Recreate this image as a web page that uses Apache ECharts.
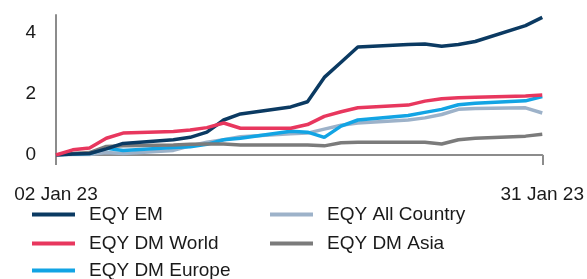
<!DOCTYPE html>
<html>
<head>
<meta charset="utf-8">
<script src="https://cdn.jsdelivr.net/npm/echarts@6/dist/echarts.min.js"></script>
<style>
html,body{margin:0;padding:0;background:#fff;}
#chart{width:587px;height:279px;}
</style>
</head>
<body>
<div id="chart"></div>
<script>
const dates = ['2023-01-02','2023-01-03','2023-01-04','2023-01-05','2023-01-06',
  '2023-01-09','2023-01-10','2023-01-11','2023-01-12','2023-01-13',
  '2023-01-16','2023-01-17','2023-01-18','2023-01-19','2023-01-20',
  '2023-01-23','2023-01-24','2023-01-25','2023-01-26','2023-01-27',
  '2023-01-30','2023-01-31'];
const tickLabels = ['02 Jan 23', '31 Jan 23'];
const yTicks = [0, 2, 4];
const seriesNames = ['EQY EM','EQY DM World','EQY DM Europe','EQY All Country','EQY DM Asia'];
const eqyEM        = [0, 0.03, 0.05, 0.2, 0.38, 0.5, 0.58, 0.75, 1.15, 1.35, 1.58, 1.75, 2.55, 3.05, 3.55, 3.63, 3.65, 3.57, 3.63, 3.73, 4.25, 4.52];
const eqyDMWorld   = [0, 0.17, 0.23, 0.55, 0.72, 0.77, 0.82, 0.9, 1.05, 0.88, 0.88, 1.0, 1.27, 1.42, 1.55, 1.64, 1.77, 1.85, 1.88, 1.9, 1.94, 1.97];
const eqyDMEurope  = [0, 0.03, 0.05, 0.22, 0.15, 0.25, 0.27, 0.35, 0.5, 0.55, 0.78, 0.75, 0.58, 0.95, 1.15, 1.3, 1.4, 1.5, 1.65, 1.7, 1.78, 1.92];
const eqyAllCountry= [0, 0.02, 0.02, 0.08, 0.05, 0.15, 0.3, 0.42, 0.5, 0.6, 0.7, 0.72, 0.85, 0.98, 1.05, 1.15, 1.22, 1.33, 1.5, 1.53, 1.55, 1.38];
const eqyDMAsia    = [0, 0.05, 0.08, 0.28, 0.3, 0.33, 0.35, 0.36, 0.36, 0.33, 0.33, 0.33, 0.3, 0.4, 0.42, 0.42, 0.42, 0.36, 0.5, 0.55, 0.62, 0.68];

const colors = {
  'EQY EM': '#0b3a62',
  'EQY DM World': '#e8375e',
  'EQY DM Europe': '#12a4e4',
  'EQY All Country': '#9db2c9',
  'EQY DM Asia': '#7b7b7b'
};
const DAY = 86400000;
const t0 = Date.parse(dates[0]);
const xs = dates.map(d => (Date.parse(d) - t0) / DAY);
const xMax = xs[xs.length - 1];
const pair = arr => arr.map((v, i) => [xs[i], v]);
const valuesByName = {
  'EQY EM': eqyEM,
  'EQY DM World': eqyDMWorld,
  'EQY DM Europe': eqyDMEurope,
  'EQY All Country': eqyAllCountry,
  'EQY DM Asia': eqyDMAsia
};
const drawOrder = ['EQY All Country','EQY DM Europe','EQY DM Asia','EQY EM','EQY DM World'];
const FONT = '"Liberation Sans", Arial, sans-serif';
// legend slots: [left, top] per item (two columns)
const legendSlots = {
  'EQY EM': [32, 205],
  'EQY DM World': [32, 234],
  'EQY DM Europe': [32, 261],
  'EQY All Country': [270, 205],
  'EQY DM Asia': [270, 234]
};
const legends = seriesNames.map(name => ({
  orient: 'horizontal',
  icon: 'rect',
  itemWidth: 43,
  itemHeight: 4,
  left: legendSlots[name][0],
  top: legendSlots[name][1],
  padding: 0,
  data: [name],
  textStyle: { fontFamily: FONT, fontSize: 19, color: '#1a1a1a', lineHeight: 18, padding: [0,0,0,9] }
}));
const chart = echarts.init(document.getElementById('chart'), null, { renderer: 'canvas' });
chart.setOption({
  animation: false,
  backgroundColor: '#ffffff',
  grid: { left: 56, right: 43, top: 15, bottom: 124, containLabel: false },
  legend: legends,
  xAxis: {
    type: 'value',
    min: 0,
    max: xMax,
    interval: xMax,
    splitLine: { show: false },
    axisLine: { show: true, lineStyle: { color: '#8c8c8c', width: 2 } },
    axisTick: { show: true, length: 10, lineStyle: { color: '#8c8c8c', width: 2 } },
    axisLabel: {
      margin: 30,
      fontFamily: FONT, fontSize: 19, color: '#1a1a1a',
      formatter: v => v === 0 ? tickLabels[0] : (v === xMax ? tickLabels[1] : '')
    }
  },
  yAxis: {
    type: 'value',
    min: 0,
    max: 4.6,
    interval: 2,
    splitLine: { show: false },
    axisLine: { show: true, lineStyle: { color: '#8c8c8c', width: 2 } },
    axisTick: { show: false },
    axisLabel: {
      margin: 20,
      fontFamily: FONT, fontSize: 19, color: '#1a1a1a',
      padding: [3, 0, 0, 0],
      formatter: v => yTicks.includes(v) ? String(v) : ''
    }
  },
  series: drawOrder.map(name => ({
    name: name,
    type: 'line',
    data: pair(valuesByName[name]),
    showSymbol: false,
    symbol: 'none',
    lineStyle: { color: colors[name], width: 3.5 },
    itemStyle: { color: colors[name] }
  }))
});
</script>
</body>
</html>
